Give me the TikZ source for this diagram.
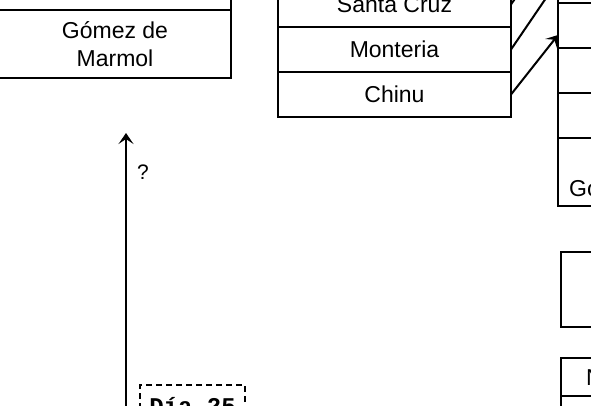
\documentclass[tikz,border=0pt]{standalone}
\usepackage{fontspec}
\setmainfont{Liberation Sans}
\newfontfamily\daymono{Liberation Mono}
\usetikzlibrary{positioning,arrows.meta}

\begin{document}
\begin{tikzpicture}[
  x=1pt, y=-1pt,
  >={Stealth[length=11pt,width=15pt,inset=5pt]},
  cell/.style={draw, line width=2pt, outer sep=0pt, inner sep=0pt,
    minimum width=233pt, minimum height=45pt, align=center,
    font=\fontsize{23}{27.6}\selectfont},
  tallcell/.style={cell, minimum height=68pt},
  link/.style={->, line width=2pt},
  qmark/.style={anchor=west, inner sep=0pt, xshift=10pt,
    font=\fontsize{21}{25}\selectfont},
  daybox/.style={draw, dash pattern=on 6pt off 4pt, line width=1.5pt,
    minimum width=105pt, minimum height=42pt,
    font=\daymono\bfseries\fontsize{24}{27}\selectfont}
]
  \useasboundingbox (0,0) rectangle (591,406);
  \clip (0,0) rectangle (591,406);

  % Left table, only its last two rows are in view.
  \node[tallcell, minimum width=232pt] (gomez) at (115,44) {Gómez de\\Marmol};
  \node[cell, minimum width=232pt, above=0pt of gomez] (lefttop) {};

  % Middle table.
  \node[cell] (monteria) at (394.5,49.5) {Monteria};
  \node[cell, above=0pt of monteria] (santacruz) {Santa Cruz};
  \node[cell, below=0pt of monteria] (chinu) {Chinu};

  % Right table, cut at the border.
  \node[cell] (r2) at (674.5,25.5) {};
  \node[cell, above=0pt of r2] (r1) {};
  \node[cell, above=0pt of r1] (r0) {};
  \node[cell, below=0pt of r2] (r3) {};
  \node[cell, below=0pt of r3] (r4) {};
  \node[tallcell, below=0pt of r4] (r5) {};
  \node[anchor=west, inner sep=0pt, font=\fontsize{23}{27.6}\selectfont]
    (gotext) at (569,189) {Go};

  \node[cell, minimum height=75pt] (box3) at (677.5,289.5) {};
  \node[cell, minimum height=38pt] (box4) at (677.5,377) {};
  \node[cell, below=0pt of box4] (box5) {};
  \node[anchor=west, inner sep=0pt, font=\fontsize{23}{27.6}\selectfont]
    (ntext) at (586,378) {N};

  \path[link]
    (santacruz.east) edge (r0.west)
    (monteria.east) edge (r1.west)
    (chinu.east) edge ([yshift=-9.5pt]r2.west);

  % Open question arrow and the day box.
  \coordinate (qtail) at (126,420);
  \coordinate (qhead) at (126,133);
  \draw[link] (qtail) -- node[qmark, pos=0.864] {?} (qhead);

  \node[daybox] (day) at (192.5,406) {Día 25};
\end{tikzpicture}
\end{document}
